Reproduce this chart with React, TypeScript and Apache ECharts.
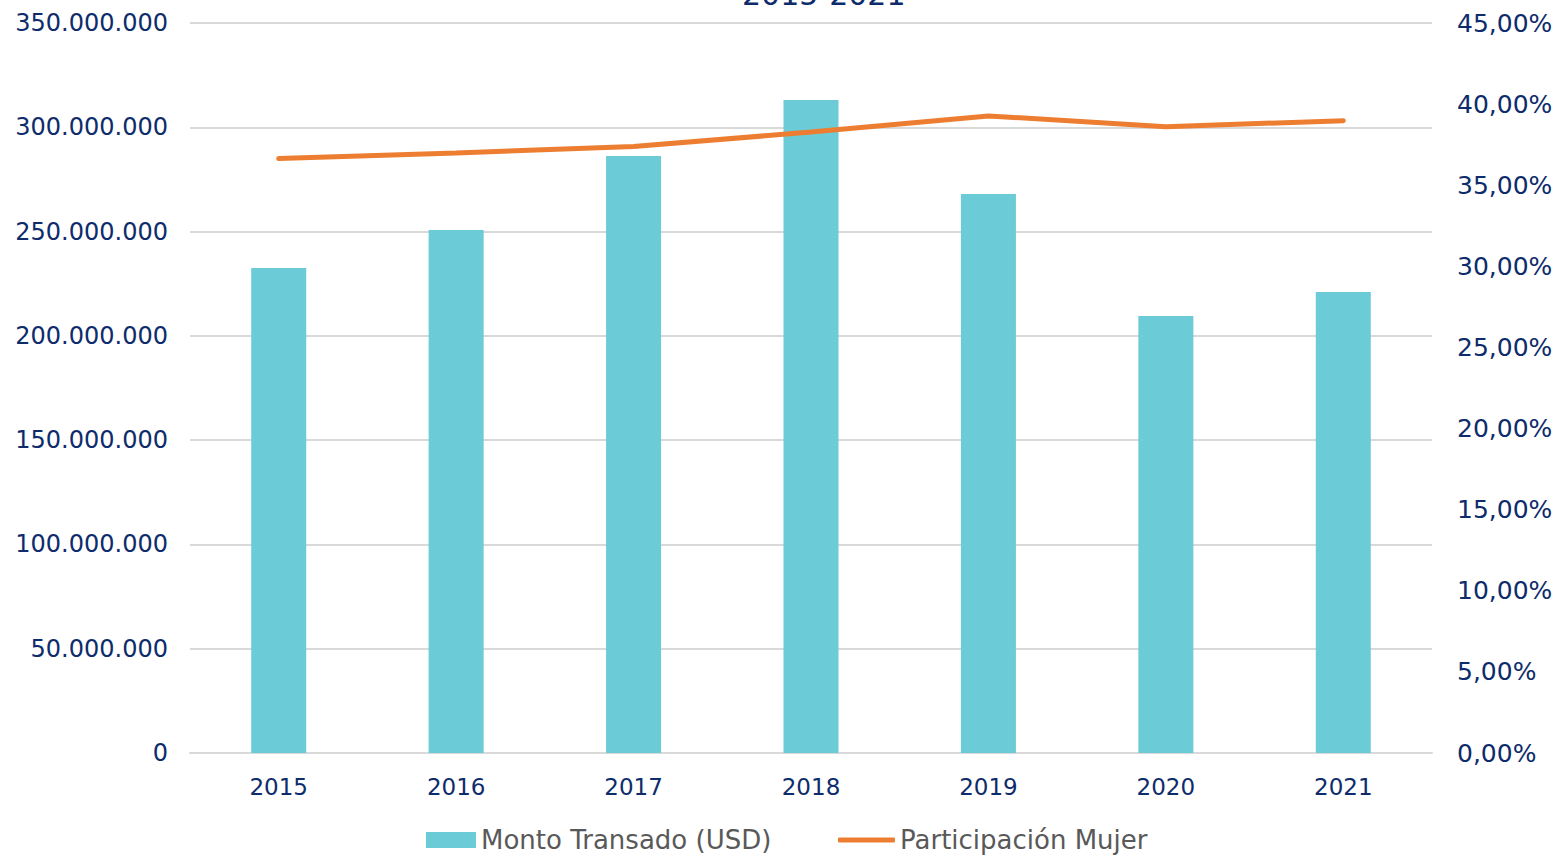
import React, { useEffect, useRef } from "react";
import * as echarts from "echarts";

const years = ["2015", "2016", "2017", "2018", "2019", "2020", "2021"];
const montoTransado = [232500000, 250800000, 286200000, 313100000, 268000000, 209500000, 221000000];
const participacionMujer = [0.3664, 0.3699, 0.3738, 0.3828, 0.3927, 0.3861, 0.3898];
const seriesNames = ["Monto Transado (USD)", "Participación Mujer"];
const titleText = "2015-2021";

const navy = "#0E2C6B";

function fmtThousands(v: number): string {
  return Math.round(v).toString().replace(/\B(?=(\d{3})+(?!\d))/g, ".");
}
function fmtPct(v: number): string {
  return (v * 100).toFixed(2).replace(".", ",") + "%";
}

export default function App() {
  const ref = useRef<HTMLDivElement>(null);
  useEffect(() => {
    if (!ref.current) return;
    const chart = echarts.init(ref.current, undefined, { renderer: "svg" });
    const legendText = { color: "#595959", fontSize: 26, fontFamily: "DejaVu Sans", lineHeight: 28 };
    chart.setOption({
      animation: false,
      textStyle: { fontFamily: "DejaVu Sans" },
      graphic: [
        {
          type: "text",
          left: 742,
          top: -21,
          style: {
            text: titleText,
            fontSize: 30,
            fill: navy,
            fontFamily: "DejaVu Sans",
          },
        },
      ],
      grid: { left: 190, right: 127, top: 23, bottom: 103, containLabel: false },
      legend: [
        {
          left: 424,
          top: 824,
          padding: 2,
          textStyle: legendText,
          data: [{ name: seriesNames[0], icon: "rect" }],
          itemWidth: 50,
          itemHeight: 16,
        },
        {
          left: 836,
          top: 824,
          padding: 2,
          textStyle: legendText,
          data: [{ name: seriesNames[1], icon: "roundRect" }],
          itemWidth: 57,
          itemHeight: 5,
        },
      ],
      xAxis: {
        type: "category",
        data: years,
        axisTick: { show: false },
        axisLine: { show: true, lineStyle: { color: "#D9D9D9", width: 2 } },
        axisLabel: { color: navy, fontSize: 23, margin: 22 },
      },
      yAxis: [
        {
          type: "value",
          min: 0,
          max: 350000000,
          interval: 50000000,
          axisLine: { show: false },
          axisTick: { show: false },
          splitLine: { lineStyle: { color: "#D9D9D9", width: 2 } },
          axisLabel: { color: navy, fontSize: 24, margin: 22, formatter: fmtThousands },
        },
        {
          type: "value",
          min: 0,
          max: 0.45,
          interval: 0.05,
          axisLine: { show: false },
          axisTick: { show: false },
          splitLine: { show: false },
          axisLabel: { color: navy, fontSize: 25, margin: 25, formatter: fmtPct },
        },
      ],
      series: [
        {
          name: seriesNames[0],
          type: "bar",
          data: montoTransado,
          barWidth: "31%",
          itemStyle: { color: "#6BCBD6" },
        },
        {
          name: seriesNames[1],
          type: "line",
          yAxisIndex: 1,
          data: participacionMujer,
          symbol: "none",
          lineStyle: { color: "#ED7D31", width: 5, cap: "round" },
          itemStyle: { color: "#ED7D31" },
        },
      ],
    });
    return () => chart.dispose();
  }, []);
  return (
    <div
      ref={ref}
      style={{ position: "fixed", left: 0, top: 0, width: 1559, height: 856, background: "#fff" }}
    />
  );
}
